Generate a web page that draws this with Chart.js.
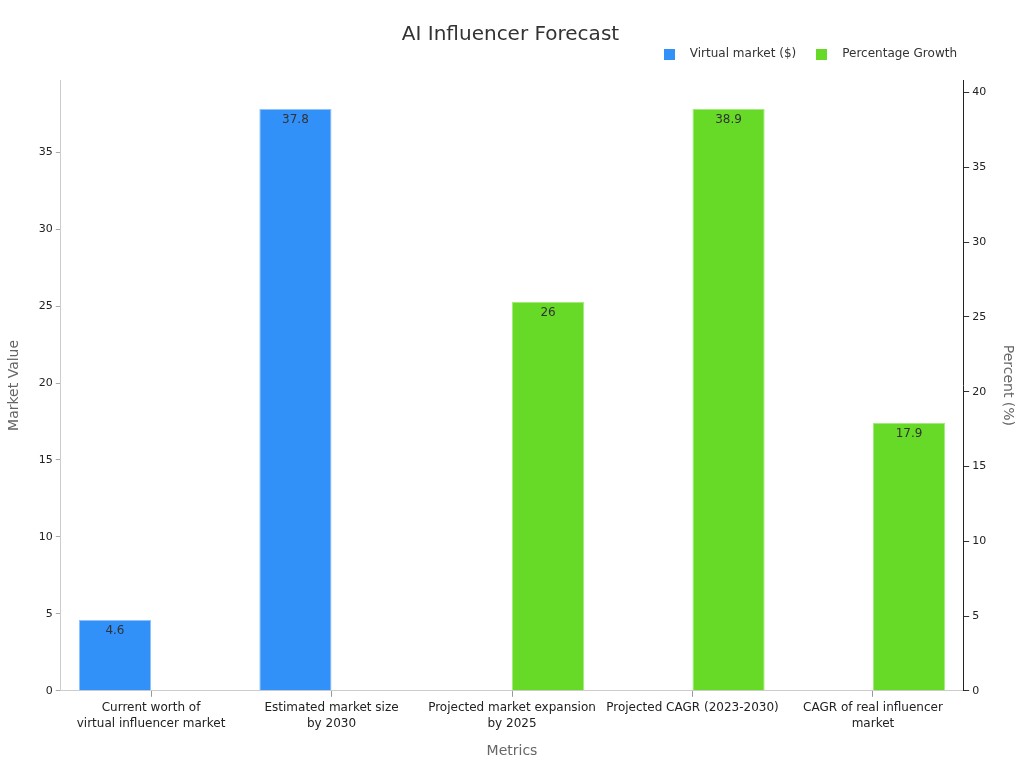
<!DOCTYPE html>
<html>
<head>
<meta charset="utf-8">
<script src="https://cdn.jsdelivr.net/npm/chart.js@4/dist/chart.umd.min.js"></script>
<style>
html,body{margin:0;padding:0;background:#fff;}
#wrap{width:1024px;height:768px;position:relative;}
</style>
</head>
<body>
<div id="wrap"><canvas id="c" width="1024" height="768"></canvas></div>
<script>
const categories = [
  ["Current worth of", "virtual influencer market"],
  ["Estimated market size", "by 2030"],
  ["Projected market expansion", "by 2025"],
  "Projected CAGR (2023-2030)",
  ["CAGR of real influencer", "market"]
];
const virtualMarket = [4.6, 37.8, null, null, null];
const percentageGrowth = [null, null, 26, 38.9, 17.9];
const leftTicks = [0, 5, 10, 15, 20, 25, 30, 35];
const rightTicks = [0, 5, 10, 15, 20, 25, 30, 35, 40];

const BLUE = '#3291f8';
const GREEN = '#66da26';
const FONT = "'DejaVu Sans', sans-serif";

function swatch(color) {
  const cv = document.createElement('canvas');
  cv.width = 11; cv.height = 11;
  const x = cv.getContext('2d');
  x.fillStyle = color; x.fillRect(0, 0, 11, 11);
  return cv;
}

const valueLabels = {
  id: 'valueLabels',
  afterDatasetsDraw(chart) {
    const ctx = chart.ctx;
    ctx.save();
    ctx.font = "12px " + FONT;
    ctx.fillStyle = '#333';
    ctx.textAlign = 'center';
    ctx.textBaseline = 'middle';
    chart.data.datasets.forEach((ds, i) => {
      const meta = chart.getDatasetMeta(i);
      meta.data.forEach((el, j) => {
        const v = ds.data[j];
        if (v === null || v === undefined) return;
        ctx.fillText(String(v), el.x, el.y + 11);
      });
    });
    ctx.restore();
  }
};

const legendShift = {
  id: 'legendShift',
  afterLayout(chart) {
    const lg = chart.legend;
    if (!lg) return;
    const h = lg.bottom - lg.top;
    lg.right = 968;
    lg.top = lg.top - 10;
    lg.bottom = lg.top + h;
  }
};

new Chart(document.getElementById('c'), {
  type: 'bar',
  data: {
    labels: categories,
    datasets: [
      {
        label: 'Virtual market ($)',
        data: virtualMarket,
        yAxisID: 'y',
        backgroundColor: BLUE,
        borderColor: '#8cc3fb',
        borderWidth: 1,
        categoryPercentage: 0.8,
        barPercentage: 1.0,
        pointStyle: swatch(BLUE)
      },
      {
        label: 'Percentage Growth',
        data: percentageGrowth,
        yAxisID: 'y1',
        backgroundColor: GREEN,
        borderColor: '#a3ea7c',
        borderWidth: 1,
        categoryPercentage: 0.8,
        barPercentage: 1.0,
        pointStyle: swatch(GREEN)
      }
    ]
  },
  options: {
    responsive: false,
    animation: false,
    devicePixelRatio: 1,
    layout: { padding: { left: 3, right: 6, top: 8, bottom: 4 } },
    plugins: {
      title: {
        display: true,
        text: 'AI Influencer Forecast',
        color: '#333',
        font: { family: FONT, size: 20, weight: 'normal' },
        padding: { top: 15, bottom: 0 }
      },
      legend: {
        position: 'top',
        align: 'end',
        labels: {
          usePointStyle: true,
          pointStyleWidth: 29,
          boxHeight: 11,
          padding: 11,
          color: '#333',
          font: { family: FONT, size: 12 }
        }
      },
      tooltip: { enabled: false }
    },
    scales: {
      x: {
        grid: { display: true, offset: false, drawOnChartArea: false, drawTicks: true, tickLength: 6, color: '#999' },
        border: { display: true, color: '#ccc' },
        ticks: { color: '#222', font: { family: FONT, size: 12, lineHeight: 1.35 }, padding: 3, maxRotation: 0, autoSkip: false },
        title: { display: true, text: 'Metrics', color: '#666', font: { family: FONT, size: 14 }, padding: { top: 8 } }
      },
      y: {
        position: 'left',
        min: 0,
        max: 39.69,
        grid: { display: true, drawOnChartArea: false, drawTicks: true, tickLength: 5, color: '#aaa' },
        border: { display: true, color: '#ccc' },
        afterBuildTicks: (s) => { s.ticks = leftTicks.map(v => ({ value: v })); },
        ticks: { color: '#222', font: { family: FONT, size: 11 }, padding: 3 },
        title: { display: true, text: 'Market Value', color: '#666', font: { family: FONT, size: 14 }, padding: { top: 2.5, bottom: 13.5 } }
      },
      y1: {
        position: 'right',
        min: 0,
        max: 40.845,
        grid: { display: true, drawOnChartArea: false, drawTicks: true, tickLength: 6, color: '#333' },
        border: { display: true, color: '#222' },
        afterBuildTicks: (s) => { s.ticks = rightTicks.map(v => ({ value: v })); },
        ticks: { color: '#222', font: { family: FONT, size: 11 }, padding: 3 },
        title: { display: true, text: 'Percent (%)', color: '#666', font: { family: FONT, size: 14 }, padding: { top: 2, bottom: 10 } }
      }
    }
  },
  plugins: [valueLabels, legendShift]
});
</script>
</body>
</html>
